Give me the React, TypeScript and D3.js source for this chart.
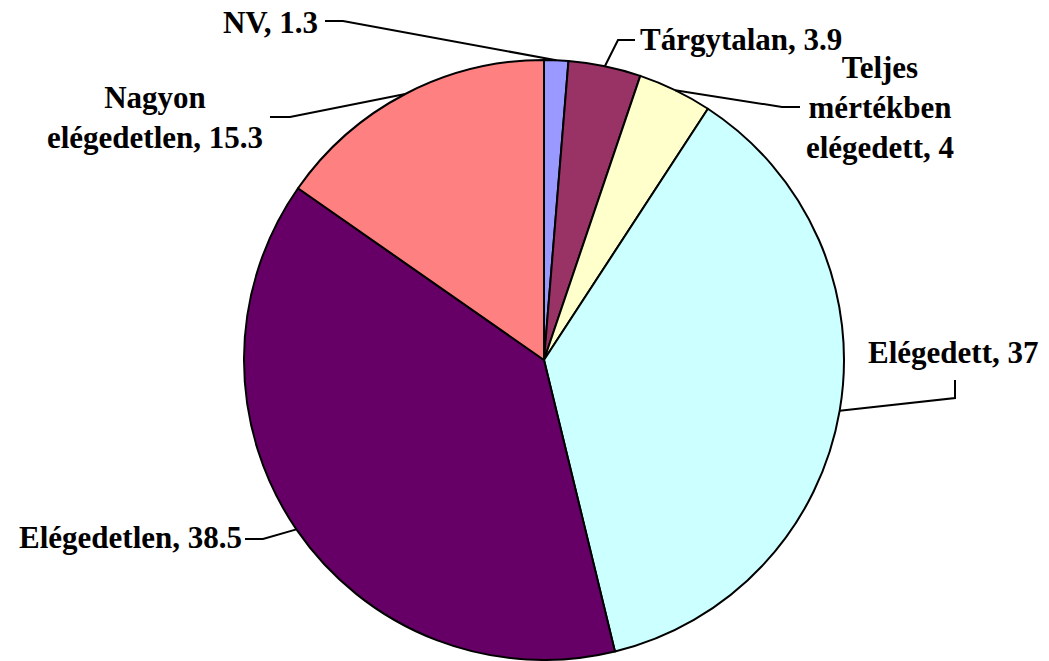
import React from 'react'
import * as d3 from 'd3'

const categories = ['NV', 'Tárgytalan', 'Teljes mértékben elégedett', 'Elégedett', 'Elégedetlen', 'Nagyon elégedetlen']
const values = [1.3, 3.9, 4, 37, 38.5, 15.3]
const colors = ['#9999FF', '#993366', '#FFFFCC', '#CCFFFF', '#660066', '#FF8080']
// label text lines per slice
const labelLines = [
  ['NV, 1.3'],
  ['Tárgytalan, 3.9'],
  ['Teljes', 'mértékben', 'elégedett, 4'],
  ['Elégedett, 37'],
  ['Elégedetlen, 38.5'],
  ['Nagyon', 'elégedetlen, 15.3'],
]

const W = 1049
const H = 661

// label placement (layout only): text anchor point, alignment, leader elbow + end
const layout: { x: number; y: number; anchor: string; elbow: [number, number]; end: [number, number] }[] = [
  { x: 318, y: 33, anchor: 'end', elbow: [343, 21], end: [325, 21] },
  { x: 640, y: 50, anchor: 'start', elbow: [618, 40], end: [635, 40] },
  { x: 880, y: 78, anchor: 'middle', elbow: [782, 107], end: [800, 107] },
  { x: 868, y: 363, anchor: 'start', elbow: [955, 398], end: [955, 380] },
  { x: 242, y: 548, anchor: 'end', elbow: [263, 539], end: [245, 539] },
  { x: 155, y: 108, anchor: 'middle', elbow: [290, 117], end: [270, 117] },
]

const cx = 544, cy = 360, r = 300

export default function App() {
  const pie = d3.pie<number>().sort(null).value(d => d)
  const arcs = pie(values)
  const arc = d3.arc<d3.PieArcDatum<number>>().innerRadius(0).outerRadius(r)
  const line = d3.line()

  return (
    <svg width={W} height={H} style={{ position: 'absolute', left: 0, top: 0, fontFamily: "'Liberation Serif'" }}>
      <g transform={`translate(${cx},${cy})`}>
        {arcs.map((d, i) => (
          <path key={categories[i]} d={arc(d) || ''} fill={colors[i]} stroke="#000" strokeWidth={2} strokeLinejoin="round" />
        ))}
      </g>
      {arcs.map((d, i) => {
        const a = (d.startAngle + d.endAngle) / 2
        const p: [number, number] = [cx + r * Math.sin(a), cy - r * Math.cos(a)]
        const L = layout[i]
        return <path key={'l' + i} d={line([p, L.elbow, L.end]) || ''} fill="none" stroke="#000" strokeWidth={2} />
      })}
      {labelLines.map((lines, i) =>
        lines.map((s, j) => {
          const L = layout[i]
          return (
            <text key={'t' + i + '-' + j} x={L.x} y={L.y + j * 40} textAnchor={L.anchor as any}
              style={{ fontFamily: "'Liberation Serif'", fontWeight: 'bold', fontSize: 31 }}>
              {s}
            </text>
          )
        })
      )}
    </svg>
  )
}
